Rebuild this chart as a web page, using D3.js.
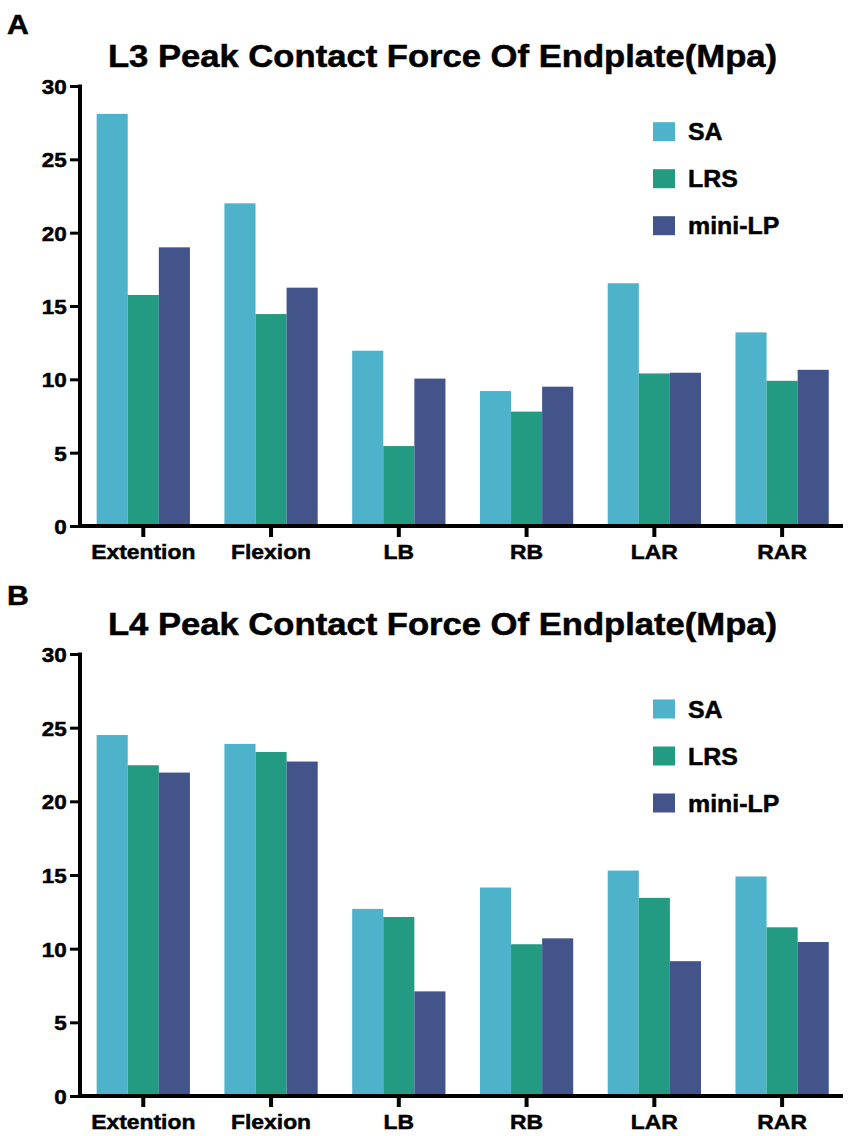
<!DOCTYPE html>
<html>
<head>
<meta charset="utf-8">
<script src="https://cdn.jsdelivr.net/npm/d3@7"></script>
<style>
  body { margin: 0; background: #fff; }
  svg text { font-family: "Liberation Sans", Arial, sans-serif; font-weight: bold; fill: #000;
             stroke: #000; stroke-width: 0.5px; }
</style>
</head>
<body>
<svg id="chart" width="851" height="1136"></svg>
<script>
// 数据
let categories = ['Extention', 'Flexion', 'LB', 'RB', 'LAR', 'RAR'];
let seriesNames = ['SA', 'LRS', 'mini-LP'];
let colors = ['#4db2ca', '#229b82', '#425489'];
let yTicks = [0, 5, 10, 15, 20, 25, 30];

// L3
let l3SA     = [28.1, 22.0, 11.95, 9.2, 16.55, 13.2];
let l3LRS    = [15.75, 14.45, 5.45, 7.8, 10.4, 9.9];
let l3MiniLP = [19.0, 16.25, 10.05, 9.5, 10.45, 10.65];

// L4
let l4SA     = [24.5, 23.9, 12.7, 14.15, 15.3, 14.9];
let l4LRS    = [22.45, 23.35, 12.15, 10.3, 13.45, 11.45];
let l4MiniLP = [21.95, 22.7, 7.1, 10.7, 9.15, 10.45];

let svg = d3.select('#chart');

drawPanel = (opt) => {
  let top = opt.top, bottom = opt.bottom;
  let left = 80, right = 843;

  let x0 = d3.scaleBand().domain(categories).range([79.4, 846])
    .paddingInner(0.27).paddingOuter(0.135);
  let x1 = d3.scaleBand().domain(seriesNames).range([0, x0.bandwidth()]);
  let y = d3.scaleLinear().domain([0, 30]).range([bottom, top]);

  let g = svg.append('g');

  // 面板字母
  g.append('text').attr('transform', `translate(7,${opt.letterY}) scale(1.12,1)`)
    .attr('font-size', 27).text(opt.letter);

  // 标题 (原图字体偏宽，横向拉伸)
  g.append('text').attr('transform', `translate(442.5,${top - 19}) scale(1.135,1)`)
    .attr('text-anchor', 'middle').attr('font-size', 30.5).text(opt.title);

  // 柱子
  let data = categories.map((c, i) => ({
    cat: c,
    vals: seriesNames.map((s, j) => ({ name: s, value: opt.values[j][i], color: colors[j] }))
  }));

  let groups = g.selectAll('.grp').data(data).enter().append('g')
    .attr('transform', d => `translate(${x0(d.cat)},0)`);
  groups.selectAll('rect').data(d => d.vals).enter().append('rect')
    .attr('x', d => x1(d.name))
    .attr('width', x1.bandwidth())
    .attr('y', d => y(d.value))
    .attr('height', d => y(0) - y(d.value))
    .attr('fill', d => d.color);

  // y轴
  let yAxis = g.append('g').attr('transform', `translate(${left},0)`)
    .call(d3.axisLeft(y).tickValues(yTicks).tickSize(10).tickPadding(2.5));
  yAxis.select('.domain').remove();
  yAxis.selectAll('.tick line').attr('stroke', '#000').attr('stroke-width', 3);
  yAxis.selectAll('.tick text').attr('font-size', 21).attr('dy', '0.36em')
    .attr('transform', 'scale(1.07,1)')
    .style('font-family', '"Liberation Sans", Arial, sans-serif').style('font-weight', 'bold');
  g.append('line').attr('x1', left).attr('x2', left).attr('y1', top - 1.5).attr('y2', bottom + 2)
    .attr('stroke', '#000').attr('stroke-width', 4);

  // x轴
  let xAxis = g.append('g').attr('transform', `translate(0,${bottom})`)
    .call(d3.axisBottom(x0).tickSize(11).tickPadding(6));
  xAxis.select('.domain').remove();
  xAxis.selectAll('.tick line').attr('stroke', '#000').attr('stroke-width', 4);
  xAxis.selectAll('.tick text').attr('font-size', 21).attr('dy', '0.74em')
    .attr('transform', 'scale(1.09,1)')
    .style('font-family', '"Liberation Sans", Arial, sans-serif').style('font-weight', 'bold');
  g.append('line').attr('x1', left - 2).attr('x2', right).attr('y1', bottom).attr('y2', bottom)
    .attr('stroke', '#000').attr('stroke-width', 4);

  // 图例
  let legend = g.selectAll('.lg').data(seriesNames).enter().append('g')
    .attr('transform', (d, i) => `translate(653,${opt.legendY + i * 47})`);
  legend.append('rect').attr('x', 0).attr('y', -9.5).attr('width', 22).attr('height', 19)
    .attr('fill', (d, i) => colors[i]);
  legend.append('text').attr('transform', 'translate(35,8.5) scale(1.06,1)')
    .attr('font-size', 23.5).text(d => d);
}

drawPanel({
  letter: 'A', letterY: 34, top: 86, bottom: 526, legendY: 131.7,
  title: 'L3 Peak Contact Force Of Endplate(Mpa)',
  values: [l3SA, l3LRS, l3MiniLP]
});

drawPanel({
  letter: 'B', letterY: 605, top: 654, bottom: 1096, legendY: 709,
  title: 'L4 Peak Contact Force Of Endplate(Mpa)',
  values: [l4SA, l4LRS, l4MiniLP]
});
</script>
</body>
</html>
